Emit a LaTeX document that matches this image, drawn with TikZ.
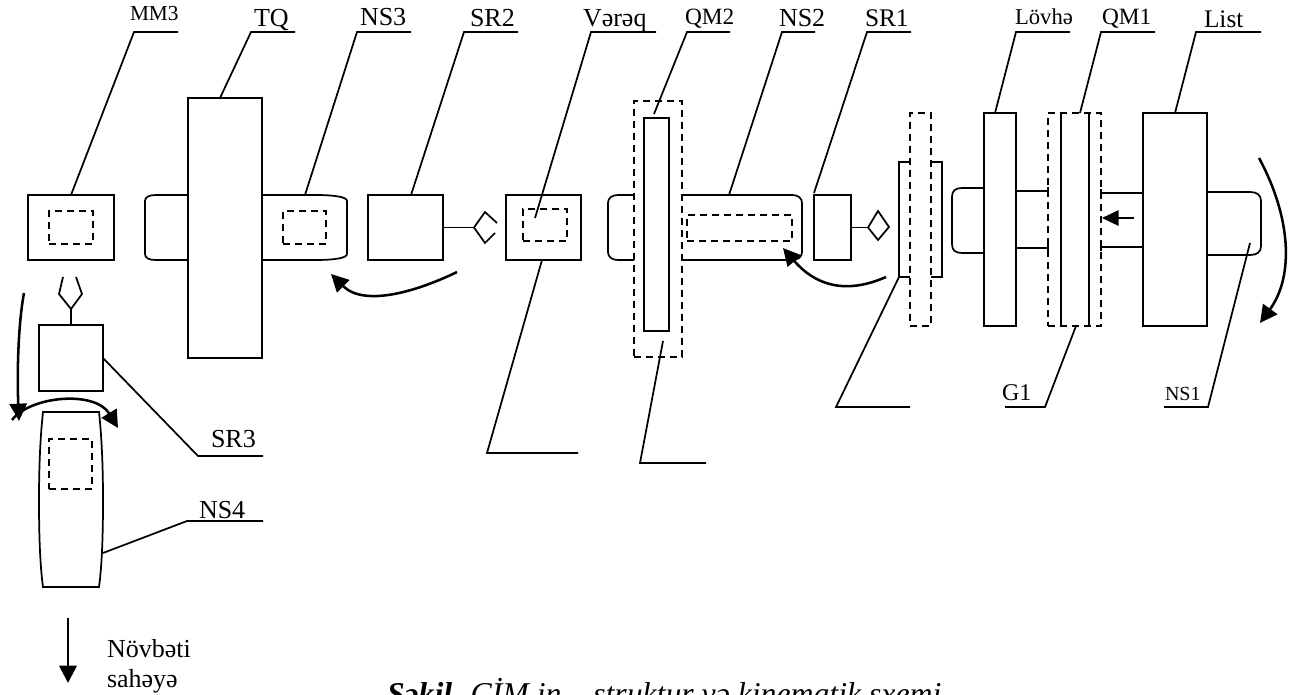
\documentclass[tikz,border=0pt]{standalone}
\usepackage{fontspec}
\setmainfont{Liberation Serif}
\usetikzlibrary{arrows.meta}
\newcommand{\pxbox}[6][]{\node[partbox,#1,minimum width={(#5-#3)*0.75pt},minimum height={(#6-#4)*0.75pt}] (#2) at ({(#3+#5)/2},{(#4+#6)/2}) {};}
\newcommand{\leaderline}[4]{\coordinate (#1-a) at #2; \coordinate (#1-b) at #3; \coordinate (#1-c) at #4; \draw[part] (#1-a) -- (#1-b) -- (#1-c);}
\newcommand{\lab}[4]{\node[labeltext] (#1) at #2 {\fontsize{#3}{#3}\selectfont #4};}
\tikzset{
  part/.style={line width=1.3pt,line join=miter},
  partbox/.style={draw,line width=1.3pt,inner sep=0pt,outer sep=0pt},
  dashbox/.style={partbox,dash pattern=on 5.25pt off 3.75pt},
  labeltext/.style={anchor=base west,inner sep=0pt,outer sep=0pt},
  moving/.style={line width=1.9pt,-{Triangle[length=13pt,width=13pt]}},
}
\begin{document}
\begin{tikzpicture}[x=0.75pt,y=-0.75pt]
\useasboundingbox (0,0) rectangle (1295,695);
\clip (0,0) rectangle (1295,695);
% MM3
\pxbox{mm3}{28}{195}{114}{260}
\pxbox[dashbox]{mm3d}{49}{211}{93}{244}
\leaderline{lmm3}{(71,195)}{(134,32)}{(178,32)}
\lab{tmm3}{(130,21)}{16}{MM3}
% TQ + NS3
\pxbox{tq}{188}{98}{262}{358}
\leaderline{ltq}{(220,98)}{(251,32)}{(295,32)}
\lab{ttq}{(254,27)}{19.5}{TQ}
\draw[part] (188,195) -- (156,195) .. controls (149,195) and (145,197) .. (145,201) -- (145,254) .. controls (145,258) and (149,260) .. (156,260) -- (188,260);
\draw[part] (262,195) -- (315,195) .. controls (335,195) and (347,197) .. (347,201) -- (347,254) .. controls (347,258) and (335,260) .. (315,260) -- (262,260);
\pxbox[dashbox]{ns3d}{283}{211}{326}{244}
\leaderline{lns3}{(305,195)}{(357,32)}{(411,32)}
\lab{tns3}{(360,26)}{19.5}{NS3}
% SR2
\pxbox{sr2}{368}{195}{443}{260}
\leaderline{lsr2}{(411,195)}{(464,32)}{(518,32)}
\lab{tsr2}{(470,27)}{19.5}{SR2}
\coordinate (gr2) at (474,227.5);
\draw[part] (sr2.east) -- (gr2);
\draw[part] (497,223) -- (485,212) -- (gr2) -- (485,243) -- (495,233);
% Vereq
\pxbox{ver}{506}{195}{581}{260}
\pxbox[dashbox]{verd}{523}{209}{567}{241}
\leaderline{lver}{(535,218)}{(591,32)}{(656,32)}
\lab{tver}{(583,27)}{19.5}{Vərəq}
\leaderline{lverb}{(542,260)}{(487,453)}{(578,453)}
% QM2
\pxbox[dashbox]{qm2d}{634}{101}{682}{357}
\pxbox{qm2}{644}{118}{669}{331}
\leaderline{lqm2}{(654,114)}{(687,32)}{(730,32)}
\lab{tqm2}{(685,25)}{17.5}{QM2}
\leaderline{lqm2b}{(663,341)}{(640,463)}{(706,463)}
% NS2
\draw[part] (634,195) -- (618,195) .. controls (612,195) and (608,198) .. (608,203) -- (608,252) .. controls (608,257) and (612,260) .. (618,260) -- (634,260);
\draw[part] (682,195) -- (792,195) .. controls (798,195) and (802,198) .. (802,203) -- (802,252) .. controls (802,257) and (798,260) .. (792,260) -- (682,260);
\pxbox[dashbox]{ns2d}{687}{215}{792}{241}
\leaderline{lns2}{(729,195)}{(782,32)}{(815,32)}
\lab{tns2}{(779,27)}{19.5}{NS2}
% SR1
\pxbox{sr1}{814}{195}{851}{260}
\leaderline{lsr1}{(814,193)}{(867,32)}{(911,32)}
\lab{tsr1}{(865,27)}{19}{SR1}
\coordinate (gr1) at (868,227.5);
\draw[part] (sr1.east) -- (gr1);
\draw[part] (gr1) -- (878,211) -- (889,227) -- (878,240) -- cycle;
% plate between SR1 and Lovhe
\pxbox[dashbox]{pd}{910}{113}{931}{326}
\draw[part] (910,162) -- (899,162) -- (899,277) -- (910,277);
\draw[part] (931,162) -- (942,162) -- (942,277) -- (931,277);
\leaderline{lp}{(899,277)}{(836,407)}{(910,407)}
% Lovhe
\pxbox{lov}{984}{113}{1016}{326}
\leaderline{llov}{(995,113)}{(1016,32)}{(1070,32)}
\lab{tlov}{(1015,25)}{17}{Lövhə}
\draw[part] (984,188) -- (962,188) .. controls (955,188) and (952,191) .. (952,197) -- (952,244) .. controls (952,250) and (955,253) .. (962,253) -- (984,253);
\draw[part] (1016,191) -- (1048,191);
\draw[part] (1016,248) -- (1048,248);
\draw[part] (1048,187) -- (1048,195);
\draw[part] (1048,244) -- (1048,252);
% QM1
\pxbox[dashbox]{qm1d}{1048}{113}{1101}{326}
\draw[part] (1061,113) -- (1061,326);
\draw[part] (1089,113) -- (1089,326);
\leaderline{lqm1}{(1080,113)}{(1101,32)}{(1155,32)}
\lab{tqm1}{(1102,25)}{17.5}{QM1}
\leaderline{lg1}{(1076,326)}{(1045,407)}{(1005,407)}
\lab{tg1}{(1002,400)}{18}{G1}
\draw[part] (1101,193) -- (1143,193);
\draw[part] (1101,247) -- (1143,247);
\draw[part] (1101,189) -- (1101,197);
\draw[part] (1101,243) -- (1101,251);
\coordinate (pusha) at (1134,218);
\coordinate (pushb) at (1102,218);
\draw[moving,-{Triangle[length=12.5pt,width=11.5pt]}] (pusha) -- (pushb);
% List
\pxbox{list}{1143}{113}{1207}{326}
\leaderline{llist}{(1175,113)}{(1196,32)}{(1261,32)}
\lab{tlist}{(1204,28)}{19}{List}
\draw[part] (1207,192) -- (1250,192) .. controls (1257,192) and (1261,195) .. (1261,201) -- (1261,246) .. controls (1261,252) and (1257,255) .. (1250,255) -- (1207,255);
\leaderline{lns1}{(1250,243)}{(1208,407)}{(1164,407)}
\lab{tns1}{(1165,400)}{15}{NS1}
% motion arrows
\coordinate (ra) at (1259,158);
\coordinate (rb) at (1260,323);
\draw[moving] (ra) .. controls (1290,215) and (1295,275) .. (rb);
\coordinate (ca) at (457,272);
\coordinate (cb) at (331,274);
\draw[moving] (ca) .. controls (420,290) and (365,308) .. (cb);
\coordinate (da) at (886,277);
\coordinate (db) at (783,248);
\draw[moving] (da) .. controls (845,295) and (815,285) .. (db);
% SR3
\pxbox{sr3}{39}{325}{103}{391}
\coordinate (fork) at (71,309);
\draw[part] (sr3.north) -- (fork);
\draw[part] (63,277) -- (59,294) -- (fork) -- (82,294) -- (76,277);
\leaderline{lsr3}{(103,358)}{(198,456)}{(263,456)}
\lab{tsr3}{(211,447)}{19.5}{SR3}
% NS4
\draw[part] (43,412) -- (99,412) .. controls (102,440) and (103,470) .. (103,500) .. controls (103,535) and (102,565) .. (99,587) -- (43,587) .. controls (40,565) and (39,535) .. (39,500) .. controls (39,470) and (40,440) .. (43,412) -- cycle;
\pxbox[dashbox]{ns4d}{49}{439}{92}{489}
\leaderline{lns4}{(103,553)}{(187,521)}{(263,521)}
\lab{tns4}{(199,518)}{19.5}{NS4}
% arrows near SR3
\coordinate (aa) at (24,293);
\coordinate (ab) at (19,421);
\draw[moving] (aa) .. controls (18,325) and (17,375) .. (ab);
\coordinate (ba) at (12,420);
\coordinate (bb) at (118,428);
\draw[moving] (ba) .. controls (30,396) and (95,390) .. (bb);
% next stage
\coordinate (na) at (68,618);
\coordinate (nb) at (68,683);
\draw[moving] (na) -- (nb);
\lab{tn1}{(107,657)}{19.5}{Növbəti}
\lab{tn2}{(107,687)}{19.5}{sahəyə}
% caption
\node[labeltext] (cap) at (387,704) {\fontsize{23.8}{26}\selectfont\itshape\textbf{Şəkil.} CİM in – struktur və kinematik sxemi};
\end{tikzpicture}
\end{document}
